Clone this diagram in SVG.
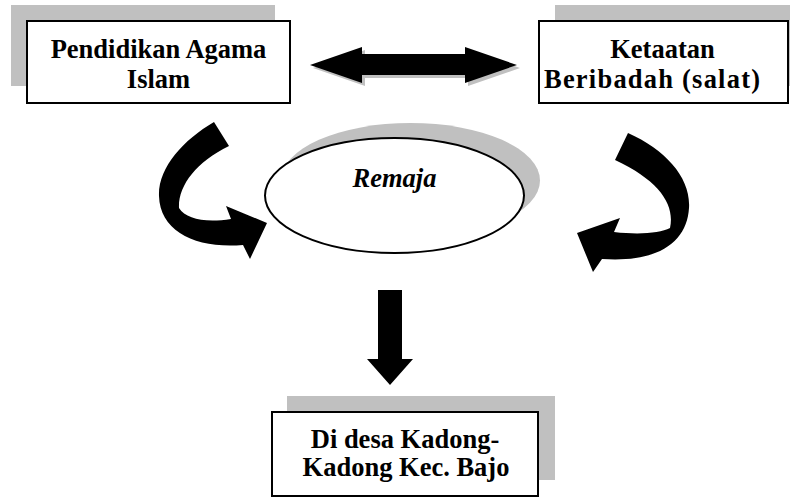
<svg xmlns="http://www.w3.org/2000/svg" width="790" height="497" viewBox="0 0 790 497">
<style>
.shadow{fill:#c0c0c0;stroke:none}
.box{fill:#ffffff;stroke:#000000;stroke-width:2}
text{font-family:"Liberation Serif","DejaVu Serif","Times New Roman",Times,serif;font-weight:700;font-size:26.5px;fill:#000000;text-anchor:middle}
.it{font-style:italic}
.arrow{fill:#000000;stroke:none}
</style>
<rect width="790" height="497" fill="#ffffff"/>
<g id="node-pendidikan">
<rect class="shadow" x="11" y="5" width="264" height="81"/>
<rect class="box" x="27" y="21" width="263" height="82"/>
<text x="158.5" y="58">Pendidikan Agama</text>
<text x="158.5" y="88">Islam</text>
</g>
<g id="node-ketaatan">
<rect class="shadow" x="555" y="5" width="235" height="81"/>
<rect class="box" x="539" y="21" width="249" height="82"/>
<text x="662.5" y="58">Ketaatan</text>
<text x="652" y="88" textLength="216" lengthAdjust="spacing">Beribadah (salat)</text>
</g>
<g id="node-remaja">
<ellipse class="shadow" cx="410.5" cy="180.5" rx="129.5" ry="57.5"/>
<ellipse cx="394.5" cy="195.5" rx="129.5" ry="57.5" fill="#ffffff" stroke="#000000" stroke-width="2"/>
<text class="it" x="394.5" y="187">Remaja</text>
</g>
<g id="node-desa">
<rect class="shadow" x="287" y="396" width="268" height="84"/>
<rect class="box" x="272" y="412" width="266" height="84"/>
<text x="405" y="448">Di desa Kadong-</text>
<text x="406" y="476">Kadong Kec. Bajo</text>
</g>
<g id="connectors">
<path class="shadow" d="M313,68 L365,50 L365,57 L468,57 L468,50 L520,68 L468,86 L468,78 L365,78 L365,86 Z"/>
<path class="arrow" d="M310,65 L362,47 L362,54 L465,54 L465,47 L517,65 L465,83 L465,75 L362,75 L362,83 Z"/>
<path class="arrow" d="M214,122 C183,140 158,168 159,196 C160,232 197,249 243,245 L250,259 L267,223 L226,206 L231,219 C205,223 186,219 179,208 C178,186 196,162 229,146 Z"/>
<path class="arrow" d="M628,133 C666,150 691,178 689,208 C687,241 660,263 602,259 L593,272 L577,233 L620,218 L614,232 C640,235 660,233 670,228 C675,205 660,181 615,160 Z"/>
<path class="arrow" d="M378,290 L402,290 L402,359 L413,359 L390,385 L367,359 L378,359 Z"/>
</g>
</svg>
